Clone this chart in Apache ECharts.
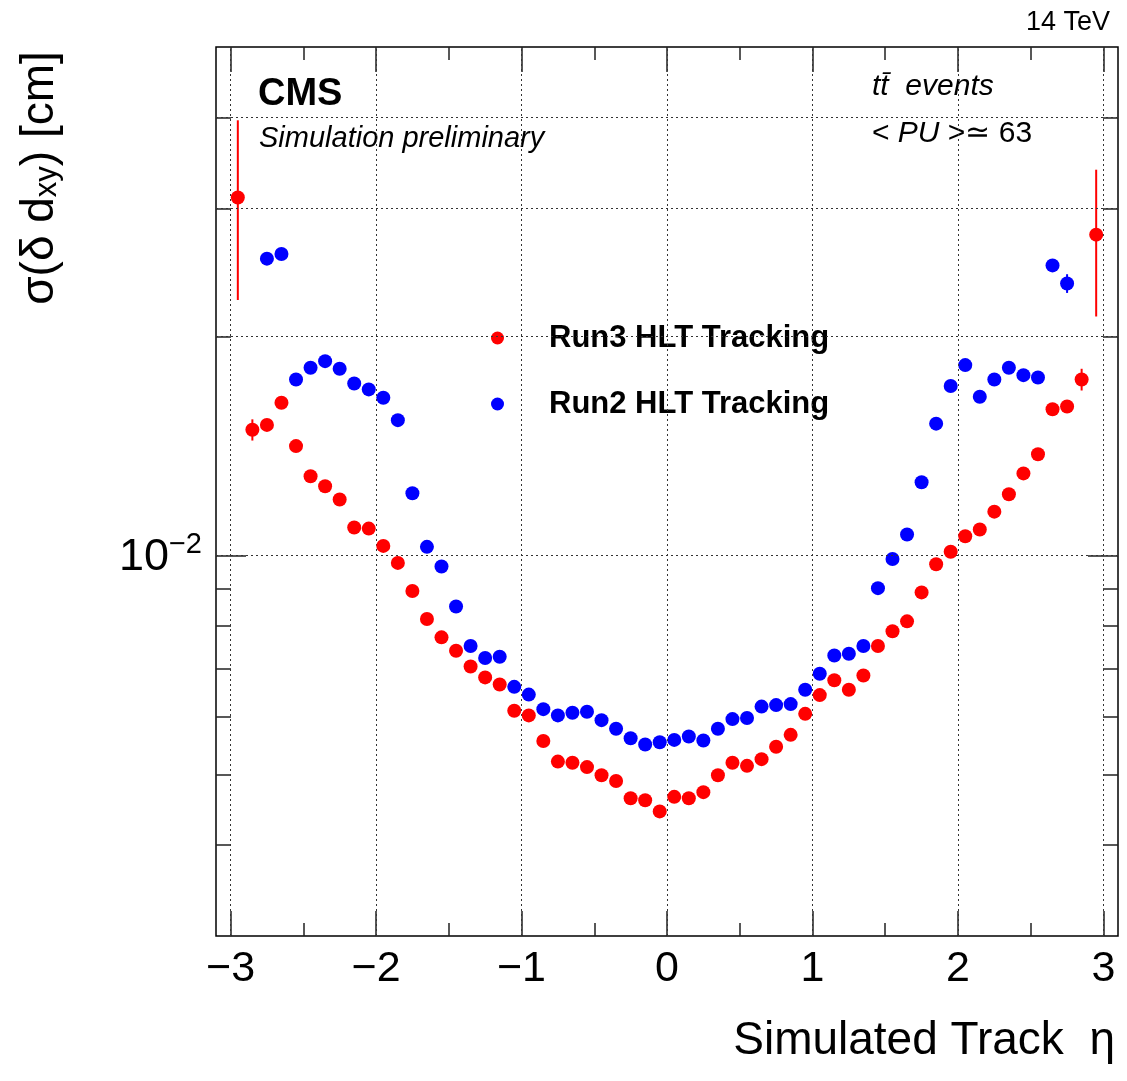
<!DOCTYPE html>
<html>
<head>
<meta charset="utf-8">
<script src="https://cdn.jsdelivr.net/npm/echarts@6/dist/echarts.min.js"></script>
<style>
  html, body { margin: 0; padding: 0; background: #fff; }
  #chart { width: 1127px; height: 1081px; }
</style>
</head>
<body>
<div id="chart"></div>
<script>
// eta bin centres
var etaBins = [
  -2.95, -2.85, -2.75, -2.65, -2.55, -2.45, -2.35, -2.25, -2.15, -2.05,
  -1.95, -1.85, -1.75, -1.65, -1.55, -1.45, -1.35, -1.25, -1.15, -1.05,
  -0.95, -0.85, -0.75, -0.65, -0.55, -0.45, -0.35, -0.25, -0.15, -0.05,
   0.05,  0.15,  0.25,  0.35,  0.45,  0.55,  0.65,  0.75,  0.85,  0.95,
   1.05,  1.15,  1.25,  1.35,  1.45,  1.55,  1.65,  1.75,  1.85,  1.95,
   2.05,  2.15,  2.25,  2.35,  2.45,  2.55,  2.65,  2.75,  2.85,  2.95
];

// Run3 HLT tracking, sigma(delta dxy) [cm]
var run3Vals = [
  0.03105, 0.01489, 0.01512, 0.01622, 0.01414, 0.01285, 0.01245, 0.01194, 0.01093, 0.01089,
  0.01031, 0.00977, 0.00894, 0.00818, 0.00772, 0.00740, 0.00704, 0.00680, 0.00665, 0.00612,
  0.00603, 0.00556, 0.00521, 0.00519, 0.00512, 0.00499, 0.00490, 0.00464, 0.00461, 0.00445,
  0.00466, 0.00464, 0.00473, 0.00499, 0.00519, 0.00514, 0.00525, 0.00546, 0.00567, 0.00606,
  0.00643, 0.00674, 0.00654, 0.00684, 0.00751, 0.00787, 0.00812, 0.00890, 0.00973, 0.01012,
  0.01063, 0.01086, 0.01149, 0.01214, 0.01297, 0.01378, 0.01589, 0.01603, 0.01746, 0.02761
];
var run3Errs = [
  0.0086, 0.0005, 0, 0, 0, 0, 0, 0, 0, 0,
  0, 0, 0, 0, 0, 0, 0, 0, 0, 0,
  0, 0, 0, 0, 0, 0, 0, 0, 0, 0,
  0, 0, 0, 0, 0, 0, 0, 0, 0, 0,
  0, 0, 0, 0, 0, 0, 0, 0, 0, 0,
  0, 0, 0, 0, 0, 0, 0, 0, 0.0006, 0.0063
];

// Run2 HLT tracking
var run2Vals = [
  null, null, 0.02559, 0.02597, 0.01746, 0.01812, 0.01850, 0.01806, 0.01724, 0.01692,
  0.01648, 0.01535, 0.01218, 0.01028, 0.00966, 0.00851, 0.00751, 0.00723, 0.00726, 0.00660,
  0.00644, 0.00615, 0.00603, 0.00608, 0.00610, 0.00594, 0.00578, 0.00561, 0.00550, 0.00554,
  0.00558, 0.00564, 0.00557, 0.00578, 0.00596, 0.00598, 0.00620, 0.00623, 0.00625, 0.00654,
  0.00688, 0.00729, 0.00733, 0.00751, 0.00902, 0.00989, 0.01069, 0.01261, 0.01518, 0.01710,
  0.01827, 0.01653, 0.01746, 0.01812, 0.01770, 0.01757, 0.02505, 0.02366, null, null
];
var run2Errs = [
  0, 0, 0.0004, 0, 0, 0, 0, 0, 0, 0,
  0, 0, 0, 0, 0, 0, 0, 0, 0, 0,
  0, 0, 0, 0, 0, 0, 0, 0, 0, 0,
  0, 0, 0, 0, 0, 0, 0, 0, 0, 0,
  0, 0, 0, 0, 0, 0, 0, 0, 0, 0,
  0, 0, 0, 0, 0, 0, 0, 0.0007, 0, 0
];

// axis ticks and grid lines
var xMajorTicks = [-3, -2, -1, 0, 1, 2, 3];
var xMinorTicks = [-2.5, -1.5, -0.5, 0.5, 1.5, 2.5];
var yMajorTicks = [0.01];
var yMinorTicks = [0.004, 0.005, 0.006, 0.007, 0.008, 0.009, 0.02, 0.03, 0.04];
var yGridLines = [0.004, 0.005, 0.006, 0.007, 0.008, 0.009, 0.01, 0.02, 0.03, 0.04];

var FONT = '"Liberation Sans", Arial, Helvetica, sans-serif';
var RED = '#ff0000';
var BLUE = '#0000ff';

function makePoints(vals, errs) {
    var pts = [];
    etaBins.forEach(function (x, i) {
        if (vals[i] != null) pts.push([x, vals[i], errs[i]]);
    });
    return pts;
}
var run3Data = makePoints(run3Vals, run3Errs);
var run2Data = makePoints(run2Vals, run2Errs);

function errorBarRenderer(color) {
    return function (params, api) {
        var x = api.value(0), y = api.value(1), e = api.value(2);
        if (!e) return;
        var top = api.coord([x, y + e]);
        var bot = api.coord([x, y - e]);
        return {
            type: 'line',
            shape: { x1: top[0], y1: top[1], x2: bot[0], y2: bot[1] },
            style: { stroke: color, lineWidth: 2 }
        };
    };
}

function xAxisDef(pos, ticks, len, labels) {
    return {
        type: 'value', position: pos, min: -3.1, max: 3.1,
        axisLine: { show: false, onZero: false },
        axisTick: { show: true, inside: true, length: len, customValues: ticks,
                    lineStyle: { color: '#222', width: 1.5 } },
        axisLabel: labels ? {
            show: true, customValues: ticks, margin: 12,
            fontSize: 43, fontFamily: FONT, color: '#000',
            formatter: function (v) { return String(v).replace('-', '\u2212'); }
        } : { show: false },
        splitLine: { show: false }
    };
}

function yAxisDef(pos, ticks, len, labels) {
    return {
        type: 'log', logBase: 10, position: pos, min: 0.003, max: 0.05,
        axisLine: { show: false, onZero: false },
        axisTick: { show: true, inside: true, length: len, customValues: ticks,
                    lineStyle: { color: '#222', width: 1.5 } },
        axisLabel: labels ? {
            show: true, customValues: ticks, margin: 14,
            formatter: function () { return '{b|10}{s|\u22122}'; },
            rich: {
                b: { fontSize: 45, fontFamily: FONT, color: '#000', verticalAlign: 'bottom' },
                s: { fontSize: 29, fontFamily: FONT, color: '#000', verticalAlign: 'bottom', padding: [0, 0, 21, 0] }
            }
        } : { show: false },
        splitLine: { show: false }
    };
}

var myChart = echarts.init(document.getElementById('chart'));

var option = {
    animation: false,
    backgroundColor: '#fff',
    grid: {
        left: 216, right: 9, top: 47, bottom: 145,
        show: true, borderColor: '#000', borderWidth: 1.5, backgroundColor: 'transparent'
    },
    xAxis: [
        xAxisDef('bottom', xMajorTicks, 25, true),
        xAxisDef('bottom', xMinorTicks, 13, false),
        xAxisDef('top', xMajorTicks, 25, false),
        xAxisDef('top', xMinorTicks, 13, false)
    ],
    yAxis: [
        yAxisDef('left', yMajorTicks, 30, true),
        yAxisDef('left', yMinorTicks, 15, false),
        yAxisDef('right', yMajorTicks, 30, false),
        yAxisDef('right', yMinorTicks, 15, false)
    ],
    legend: {
        orient: 'vertical',
        left: 486, top: 315,
        itemWidth: 13, itemHeight: 13, itemGap: 30,
        icon: 'circle',
        data: ['Run3 HLT Tracking', 'Run2 HLT Tracking'],
        textStyle: { fontSize: 31, fontWeight: 'bold', fontFamily: FONT, color: '#000',
                     lineHeight: 36, padding: [0, 0, 0, 40] }
    },
    graphic: [
        { type: 'text', left: 258, top: 76,
          style: { text: 'CMS', font: 'bold 38px ' + FONT, fill: '#000' } },
        { type: 'text', left: 259, top: 124,
          style: { text: 'Simulation preliminary', font: 'italic 29px ' + FONT, fill: '#000' } },
        { type: 'text', left: 872, top: 72,
          style: { text: 'tt\u0304  events', font: 'italic 30px ' + FONT, fill: '#000' } },
        { type: 'text', left: 872, top: 119,
          style: {
              text: '{n|< }{i|PU}{n| >\u2243 63}',
              rich: {
                  n: { font: '30px ' + FONT, fill: '#000' },
                  i: { font: 'italic 30px ' + FONT, fill: '#000' }
              }
          } },
        { type: 'text', right: 17, top: 9,
          style: { text: '14 TeV', font: '27px ' + FONT, fill: '#000' } },
        { type: 'text', right: 12, top: 1018,
          style: { text: 'Simulated Track  \u03b7', font: '46px ' + FONT, fill: '#000' } },
        { type: 'text', x: 40, y: 178, rotation: Math.PI / 2,
          style: {
              text: '{n|\u03c3(\u03b4 d}{s|xy}{n|) [cm]}',
              align: 'center', verticalAlign: 'middle',
              rich: {
                  n: { font: '46px ' + FONT, fill: '#000', verticalAlign: 'bottom' },
                  s: { font: '31px ' + FONT, fill: '#000', verticalAlign: 'bottom' }
              }
          } }
    ],
    series: [
        {
            name: 'grid lines', type: 'scatter', data: [], silent: true, z: 1,
            markLine: {
                silent: true, symbol: 'none', animation: false,
                label: { show: false },
                lineStyle: { type: [2, 3], color: '#333', width: 1 },
                data: xMajorTicks.map(function (v) { return { xAxis: v }; })
                    .concat(yGridLines.map(function (v) { return { yAxis: v }; }))
            }
        },
        {
            name: 'Run3 err', type: 'custom', z: 3,
            renderItem: errorBarRenderer(RED),
            encode: { x: 0, y: 1 },
            data: run3Data
        },
        {
            name: 'Run2 err', type: 'custom', z: 3,
            renderItem: errorBarRenderer(BLUE),
            encode: { x: 0, y: 1 },
            data: run2Data
        },
        {
            name: 'Run2 HLT Tracking', type: 'scatter', z: 4,
            symbol: 'circle', symbolSize: 14,
            itemStyle: { color: BLUE, opacity: 1 },
            data: run2Data
        },
        {
            name: 'Run3 HLT Tracking', type: 'scatter', z: 5,
            symbol: 'circle', symbolSize: 14,
            itemStyle: { color: RED, opacity: 1 },
            data: run3Data
        }
    ]
};

myChart.setOption(option);
</script>
</body>
</html>
